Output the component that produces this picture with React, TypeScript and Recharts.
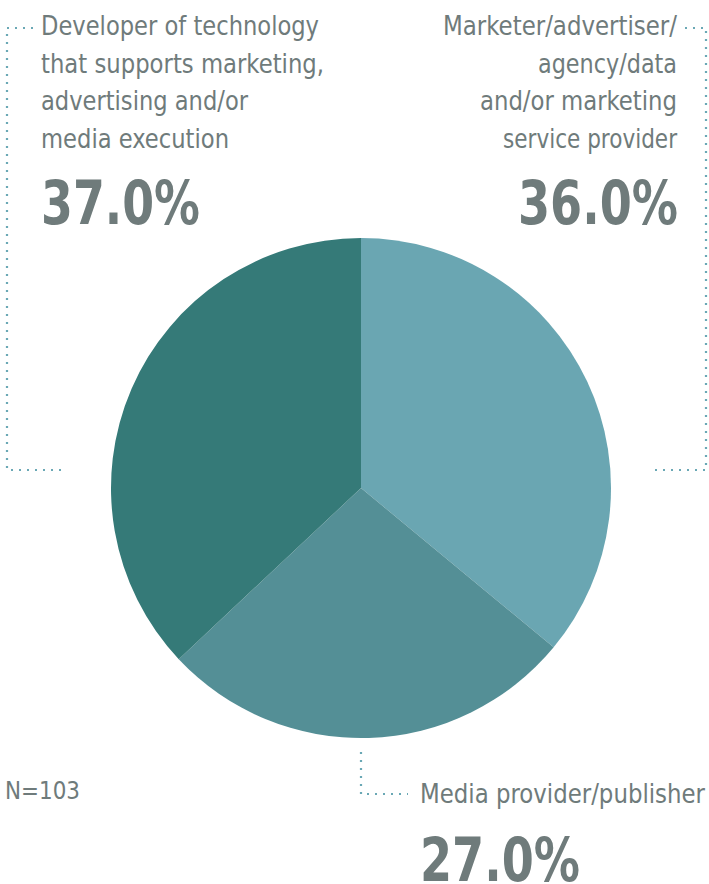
import React from "react";
import { PieChart, Pie, Cell } from "recharts";

const categories = [
  "Marketer/advertiser/agency/data and/or marketing service provider",
  "Media provider/publisher",
  "Developer of technology that supports marketing, advertising and/or media execution",
];
const values = [36.0, 27.0, 37.0];
const colors = ["#6aa6b2", "#548f96", "#357a78"];

const devLines = ["Developer of technology", "that supports marketing,", "advertising and/or", "media execution"];
const devWidths = [278, 283, 207, 188];
const mktLines = ["Marketer/advertiser/", "agency/data", "and/or marketing", "service provider"];
const mktWidths = [234, 139, 197, 174];
const mediaLines = ["Media provider/publisher"];
const mediaWidths = [285];
const sampleLabel = "N=103";

const data = categories.map((name, i) => ({ name, value: values[i] }));

const FONT = "'Liberation Sans Narrow', 'DejaVu Sans Condensed', 'Arial Narrow', sans-serif";
const TEXT = "#6f7b7b";
const DOT = "#6aa8b5";

const dot = { stroke: DOT, strokeWidth: 2.2, strokeDasharray: "2 6", strokeLinecap: "butt" as const, fill: "none" };

export default function App() {
  return (
    <div style={{ position: "absolute", left: 0, top: 0, width: 709, height: 884, background: "#fff" }}>
      <div style={{ position: "absolute", left: 0, top: 0 }}>
        <PieChart width={709} height={884} margin={{ top: 0, right: 0, bottom: 0, left: 0 }}>
          <Pie
            data={data}
            dataKey="value"
            nameKey="name"
            cx={361}
            cy={488}
            outerRadius={250}
            innerRadius={0}
            startAngle={90}
            endAngle={-270}
            stroke="none"
            isAnimationActive={false}
          >
            {data.map((d, i) => (
              <Cell key={d.name} fill={colors[i]} />
            ))}
          </Pie>
        </PieChart>
      </div>
      <svg width={709} height={884} style={{ position: "absolute", left: 0, top: 0 }} fontFamily={FONT}>
        <path d="M33 28 L7 28 L7 470 L62 470" {...dot} />
        <path d="M685 28 L706 28 L706 470 L655 470" {...dot} />
        <path d="M361 752 L361 794 L408 794" {...dot} />

        {devLines.map((t, i) => (
          <text key={t} x={41} y={35 + i * 37.5} fontSize={27} fill={TEXT} textLength={devWidths[i]} lengthAdjust="spacingAndGlyphs">{t}</text>
        ))}
        <text x={41} y={224} fontSize={60} fontWeight="bold" fill={TEXT} textLength={159} lengthAdjust="spacingAndGlyphs">{values[2].toFixed(1)}%</text>

        {mktLines.map((t, i) => (
          <text key={t} x={677 - mktWidths[i]} y={35 + i * 37.5} fontSize={27} fill={TEXT} textLength={mktWidths[i]} lengthAdjust="spacingAndGlyphs">{t}</text>
        ))}
        <text x={518} y={224} fontSize={60} fontWeight="bold" fill={TEXT} textLength={160} lengthAdjust="spacingAndGlyphs">{values[0].toFixed(1)}%</text>

        {mediaLines.map((t, i) => (
          <text key={t} x={420} y={803 + i * 37.5} fontSize={27} fill={TEXT} textLength={mediaWidths[i]} lengthAdjust="spacingAndGlyphs">{t}</text>
        ))}
        <text x={420} y={881} fontSize={60} fontWeight="bold" fill={TEXT} textLength={160} lengthAdjust="spacingAndGlyphs">{values[1].toFixed(1)}%</text>

        <text x={5} y={799} fontSize={25} fill={TEXT} textLength={75} lengthAdjust="spacingAndGlyphs">{sampleLabel}</text>
      </svg>
    </div>
  );
}
